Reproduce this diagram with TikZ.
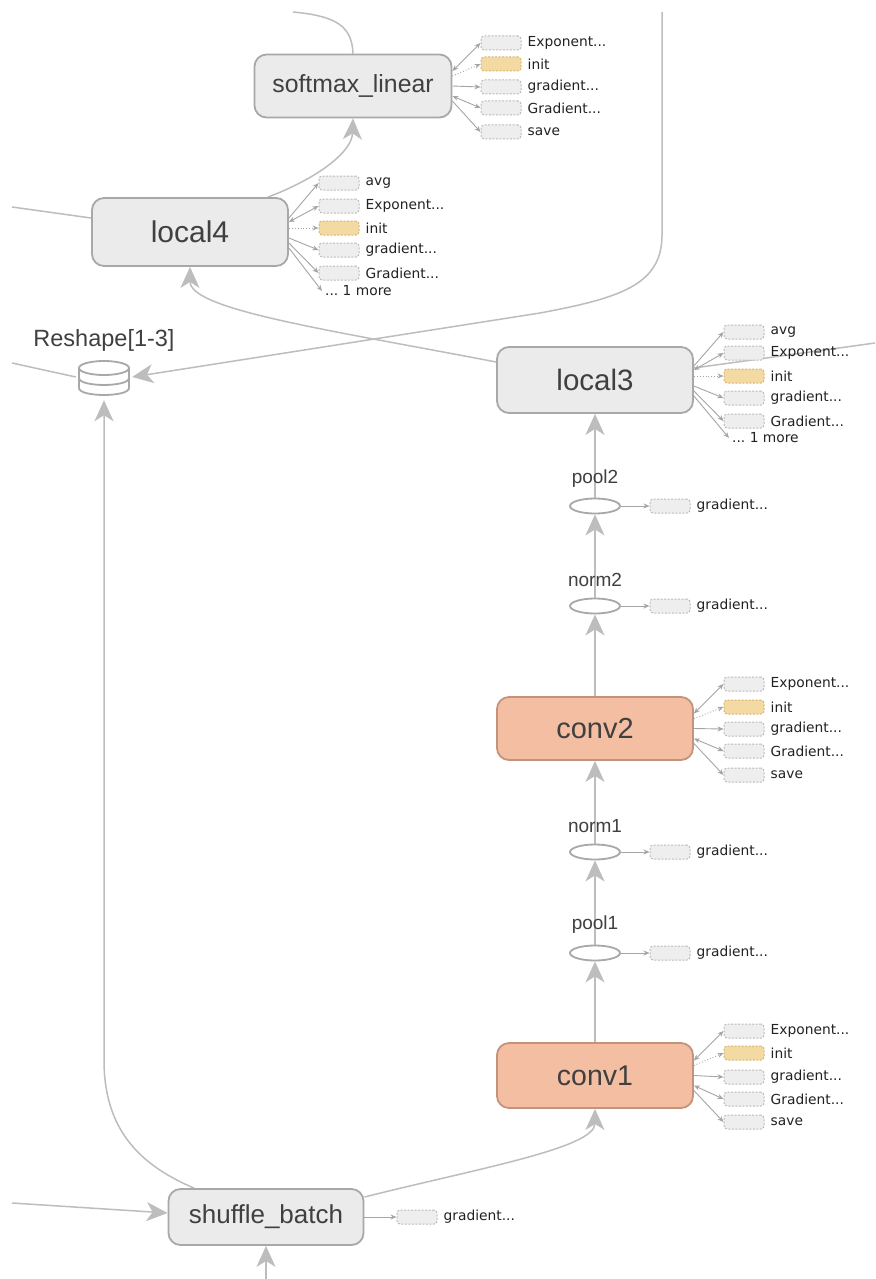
\documentclass[tikz,border=0pt]{standalone}
\usepackage{fontspec}
\setmainfont{Liberation Sans}
\newfontfamily\sidefont{DejaVu Sans}
\usetikzlibrary{arrows.meta,calc,shapes.geometric}
\definecolor{nodefill}{HTML}{EBEBEB}
\definecolor{nodedraw}{HTML}{A8A8A8}
\definecolor{convfill}{HTML}{F4BEA2}
\definecolor{convdraw}{HTML}{C4937C}
\definecolor{sidefill}{HTML}{EEEEEE}
\definecolor{sidedraw}{HTML}{BBBBBB}
\definecolor{initfill}{HTML}{F3D9A2}
\definecolor{initdraw}{HTML}{D6B676}
\definecolor{labelc}{HTML}{404040}
\definecolor{sidetext}{HTML}{222222}
\definecolor{edgec}{HTML}{BDBDBD}
\definecolor{sedgec}{HTML}{A5A5A5}
\pgfdeclarelayer{bg}
\pgfsetlayers{bg,main}
\tikzset{
  opnode/.style={draw=nodedraw, fill=nodefill, line width=1.8pt, rounded corners=12pt, text=labelc, inner sep=0pt},
  convnode/.style={opnode, draw=convdraw, fill=convfill},
  opell/.style={ellipse, draw=nodedraw, fill=white, line width=1.8pt, minimum width=50pt, minimum height=15pt, inner sep=0pt},
  elabel/.style={text=labelc, font=\fontsize{19}{22}\selectfont, inner sep=0pt},
  sbox/.style={draw=sidedraw, fill=sidefill, dash pattern=on 2pt off 1.5pt, line width=1pt, rounded corners=3pt, minimum width=40pt, minimum height=14pt, inner sep=0pt},
  ibox/.style={sbox, draw=initdraw, fill=initfill},
  slabel/.style={anchor=west, text=sidetext, font=\sidefont\fontsize{13.8}{16}\selectfont, inner sep=0pt},
  conn/.style={draw=edgec, line width=1.5pt},
  bigarrow/.style={conn, -{Stealth[length=21pt,width=19pt,inset=6pt]}},
  sedge/.style={draw=sedgec, line width=0.9pt},
  sarr/.style={sedge, -{Stealth[length=6pt,width=5pt]}},
  sdarr/.style={sedge, {Stealth[length=6pt,width=5pt]}-{Stealth[length=6pt,width=5pt]}},
  sinit/.style={sedge, dotted, -{Stealth[length=6pt,width=5pt]}}
}
\newcommand{\sbx}[5]{\node[#4] (#1) at (#2,#3) {}; \node[slabel] (#1t) at ([xshift=6pt]#1.east) {#5};}
\begin{document}
\begin{tikzpicture}[x=1pt,y=-1pt]
\useasboundingbox (0,0) rectangle (875,1279);

% main nodes
\node[opnode, minimum width=197pt, minimum height=63pt, font=\fontsize{24.8}{28}\selectfont] (sm) at (353,86) {softmax\_linear};
\node[opnode, minimum width=196pt, minimum height=68pt, font=\fontsize{30}{34}\selectfont] (l4) at (190,232) {local4};
\node[opnode, minimum width=196pt, minimum height=66pt, font=\fontsize{29.5}{34}\selectfont] (l3) at (595,380) {local3};
\node[convnode, minimum width=196pt, minimum height=63pt, font=\fontsize{29}{34}\selectfont] (c2) at (595,728.5) {conv2};
\node[convnode, minimum width=196pt, minimum height=65pt, font=\fontsize{28.5}{34}\selectfont] (c1) at (595,1075.5) {conv1};
\node[opnode, minimum width=195pt, minimum height=56pt, font=\fontsize{26}{30}\selectfont] (sb) at (266,1217) {shuffle\_batch};

% ellipse nodes
\node[opell] (p2) at (595,506) {};
\node[opell] (n2) at (595,606) {};
\node[opell] (n1) at (595,852) {};
\node[opell] (p1) at (595,953) {};
\node[elabel] (p2t) at (595,479) {pool2};
\node[elabel] (n2t) at (595,580) {norm2};
\node[elabel] (n1t) at (595,826) {norm1};
\node[elabel] (p1t) at (595,925) {pool1};

% Reshape
\node[minimum width=56pt, minimum height=40pt, inner sep=0pt] (rs) at (104,380) {};
\node[text=labelc, font=\fontsize{23.5}{27}\selectfont, inner sep=0pt] (rst) at (104,340) {Reshape[1-3]};
\begin{scope}[draw=nodedraw, line width=1.8pt]
  \draw[fill=white] (79,368) -- (79,388) .. controls (79,397.3) and (129,397.3) .. (129,388) -- (129,368);
  \draw (79,378) .. controls (79,387.3) and (129,387.3) .. (129,378);
  \draw[fill=white] (104,368) ellipse [x radius=25, y radius=7];
\end{scope}

% free ends
\coordinate (tl) at (293,12);
\coordinate (tr) at (662,12);
\coordinate (lf4) at (12,207);
\coordinate (lfr) at (12,363);
\coordinate (rr) at (875,343);
\coordinate (lsb) at (12,1203);
\coordinate (bt) at (266,1279);

% side lists: softmax
\sbx{smA}{501}{43}{sbox}{Exponent...}
\sbx{smB}{501}{64}{ibox}{init}
\sbx{smC}{501}{87}{sbox}{gradient...}
\sbx{smD}{501}{108}{sbox}{Gradient...}
\sbx{smE}{501}{132}{sbox}{save}
% local4
\sbx{lfA}{339}{183}{sbox}{avg}
\sbx{lfB}{339}{206}{sbox}{Exponent...}
\sbx{lfC}{339}{228}{ibox}{init}
\sbx{lfD}{339}{250}{sbox}{gradient...}
\sbx{lfE}{339}{273}{sbox}{Gradient...}
\node[slabel] (lfM) at (325,291) {...\ 1 more};
% local3
\sbx{ltA}{744}{332}{sbox}{avg}
\sbx{ltB}{744}{353}{sbox}{Exponent...}
\sbx{ltC}{744}{376}{ibox}{init}
\sbx{ltD}{744}{398}{sbox}{gradient...}
\sbx{ltE}{744}{421}{sbox}{Gradient...}
\node[slabel] (ltM) at (732,438) {...\ 1 more};
% conv2
\sbx{ctA}{744}{684}{sbox}{Exponent...}
\sbx{ctB}{744}{707}{ibox}{init}
\sbx{ctC}{744}{729}{sbox}{gradient...}
\sbx{ctD}{744}{751}{sbox}{Gradient...}
\sbx{ctE}{744}{775}{sbox}{save}
% conv1
\sbx{coA}{744}{1031}{sbox}{Exponent...}
\sbx{coB}{744}{1053}{ibox}{init}
\sbx{coC}{744}{1077}{sbox}{gradient...}
\sbx{coD}{744}{1099}{sbox}{Gradient...}
\sbx{coE}{744}{1122}{sbox}{save}
% ellipse gradients
\sbx{pwG}{670}{506}{sbox}{gradient...}
\sbx{nwG}{670}{606}{sbox}{gradient...}
\sbx{noG}{670}{852}{sbox}{gradient...}
\sbx{poG}{670}{953}{sbox}{gradient...}
\sbx{sbG}{417}{1217}{sbox}{gradient...}

\begin{pgfonlayer}{bg}
  \fill[white] (0,0) rectangle (875,1279);
  % main connectors
  \draw[conn] (sm.north) .. controls (352,26) and (336,16) .. (tl);
  \draw[bigarrow] ([xshift=78pt]l4.north) .. controls (318,178) and (352,152) .. (sm.south);
  \draw[conn] (lf4) -- ([yshift=14pt]l4.west);
  \draw[bigarrow] ([yshift=18pt]l3.west) .. controls (330,330) and (190,310) .. (l4.south);
  \draw[bigarrow] (tr) -- (662,235) .. controls (662,285) and (620,298) .. (540,313) -- ([yshift=3pt]rs.east);
  \draw[conn] (lfr) -- ([yshift=3pt]rs.west);
  \draw[conn] (rr) -- ([yshift=12pt]l3.east);
  \draw[bigarrow] ([xshift=-72pt]sb.north) .. controls (140,1165) and (104,1130) .. (104,1060) -- (rs.south);
  \draw[bigarrow] ([yshift=20pt]sb.east) .. controls (480,1168) and (595,1148) .. (c1.south);
  \draw[bigarrow] (lsb) -- ([yshift=4pt]sb.west);
  \draw[bigarrow] (bt) -- (sb.south);
  \draw[bigarrow] (c1.north) -- (p1.south);
  \draw[bigarrow] (p1.north) -- (n1.south);
  \draw[bigarrow] (n1.north) -- (c2.south);
  \draw[bigarrow] (c2.north) -- (n2.south);
  \draw[bigarrow] (n2.north) -- (p2.south);
  \draw[bigarrow] (p2.north) -- (l3.south);
  % softmax side
  \draw[sdarr] ([yshift=15pt]sm.east) -- (smA.west);
  \draw[sinit] ([yshift=10pt]sm.east) -- (smB.west);
  \draw[sarr] (sm.east) -- (smC.west);
  \draw[sdarr] ([yshift=-10pt]sm.east) -- (smD.west);
  \draw[sarr] ([yshift=-15pt]sm.east) -- (smE.west);
  % local4 side
  \draw[sarr] ([yshift=14pt]l4.east) -- (lfA.west);
  \draw[sdarr] ([yshift=10pt]l4.east) -- (lfB.west);
  \draw[sinit] ([yshift=4pt]l4.east) -- (lfC.west);
  \draw[sarr] ([yshift=-6pt]l4.east) -- (lfD.west);
  \draw[sarr] ([yshift=-11pt]l4.east) -- (lfE.west);
  \draw[sarr] ([yshift=-16pt]l4.east) -- ([xshift=-3pt]lfM.west);
  % local3 side
  \draw[sarr] ([yshift=14pt]l3.east) -- (ltA.west);
  \draw[sdarr] ([yshift=10pt]l3.east) -- (ltB.west);
  \draw[sinit] ([yshift=4pt]l3.east) -- (ltC.west);
  \draw[sarr] ([yshift=-6pt]l3.east) -- (ltD.west);
  \draw[sarr] ([yshift=-11pt]l3.east) -- (ltE.west);
  \draw[sarr] ([yshift=-16pt]l3.east) -- ([xshift=-3pt]ltM.west);
  % conv2 side
  \draw[sdarr] ([yshift=15pt]c2.east) -- (ctA.west);
  \draw[sinit] ([yshift=10pt]c2.east) -- (ctB.west);
  \draw[sarr] (c2.east) -- (ctC.west);
  \draw[sdarr] ([yshift=-10pt]c2.east) -- (ctD.west);
  \draw[sarr] ([yshift=-15pt]c2.east) -- (ctE.west);
  % conv1 side
  \draw[sdarr] ([yshift=15pt]c1.east) -- (coA.west);
  \draw[sinit] ([yshift=10pt]c1.east) -- (coB.west);
  \draw[sarr] (c1.east) -- (coC.west);
  \draw[sdarr] ([yshift=-10pt]c1.east) -- (coD.west);
  \draw[sarr] ([yshift=-15pt]c1.east) -- (coE.west);
  % ellipse gradients
  \draw[sarr] (p2.east) -- (pwG.west);
  \draw[sarr] (n2.east) -- (nwG.west);
  \draw[sarr] (n1.east) -- (noG.west);
  \draw[sarr] (p1.east) -- (poG.west);
  \draw[sarr] (sb.east) -- (sbG.west);
\end{pgfonlayer}
\end{tikzpicture}
\end{document}
